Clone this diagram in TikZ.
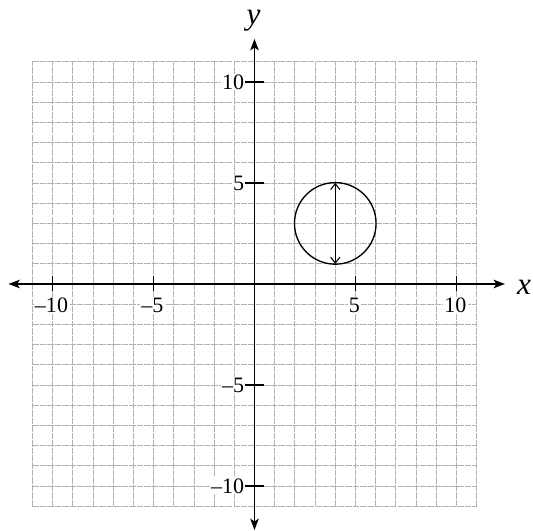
\documentclass[tikz,border=0pt]{standalone}
\usepackage{fontspec}
\setmainfont{Liberation Serif}
\usetikzlibrary{arrows.meta}
\begin{document}
\begin{tikzpicture}[x=1cm,y=1cm,
  axtip/.tip={Stealth[length=16pt,width=12pt,inset=4pt]},
  vtip/.tip={Straight Barb[length=8pt,width=13pt]},
  gridline/.style={gray!60,line width=1.1pt,dash pattern=on 9pt off 1.5pt},
  axisline/.style={line width=1.9pt},
  ticklab/.style={font=\fontsize{31}{33}\selectfont,fill=white,inner sep=1.5pt},
  axlab/.style={font=\fontsize{44}{46}\selectfont\itshape,inner sep=0pt},
  circ/.style={line width=1.9pt}]
\useasboundingbox (-12.6,-12.23) rectangle (13.79,14.06);
% grid
\foreach \i in {-11,...,11}{
  \draw[gridline] (\i,-11) -- (\i,11);
  \draw[gridline] (-11,\i) -- (11,\i);
}
% axes
\coordinate (xl) at (-12.18,0);
\coordinate (xr) at (12.4,0);
\coordinate (yb) at (0,-12.18);
\coordinate (yt) at (0,12.13);
\draw[axisline,axtip-axtip] (xl) -- (xr);
\draw[axisline,axtip-axtip] (yb) -- (yt);
\node[axlab] (xlab) at (13.35,-0.15) {x};
\node[axlab] (ylab) at (-0.05,13.05) {y};
% ticks
\foreach \v in {-10,-5,5,10}{
  \draw[line width=1.7pt] (\v,-0.35) -- (\v,0.4);
  \draw[line width=1.7pt] (-0.45,\v) -- (0.45,\v);
}
\foreach \v/\t in {-10/\textendash10,-5/\textendash5,5/5,10/10}{
  \node[ticklab] (xt\v) at (\v-0.05,-1.05) {\t};
  \node[ticklab,anchor=east] (yt\v) at (-0.45,\v) {\t};
}
% circle
\node[circ,draw,circle,minimum size=4.04cm,inner sep=0pt] (c) at (4,3) {};
\coordinate (ctop) at (4,5);
\coordinate (cbot) at (4,1);
\draw[line width=1.5pt,vtip-vtip] (cbot) -- (ctop);
\end{tikzpicture}
\end{document}
